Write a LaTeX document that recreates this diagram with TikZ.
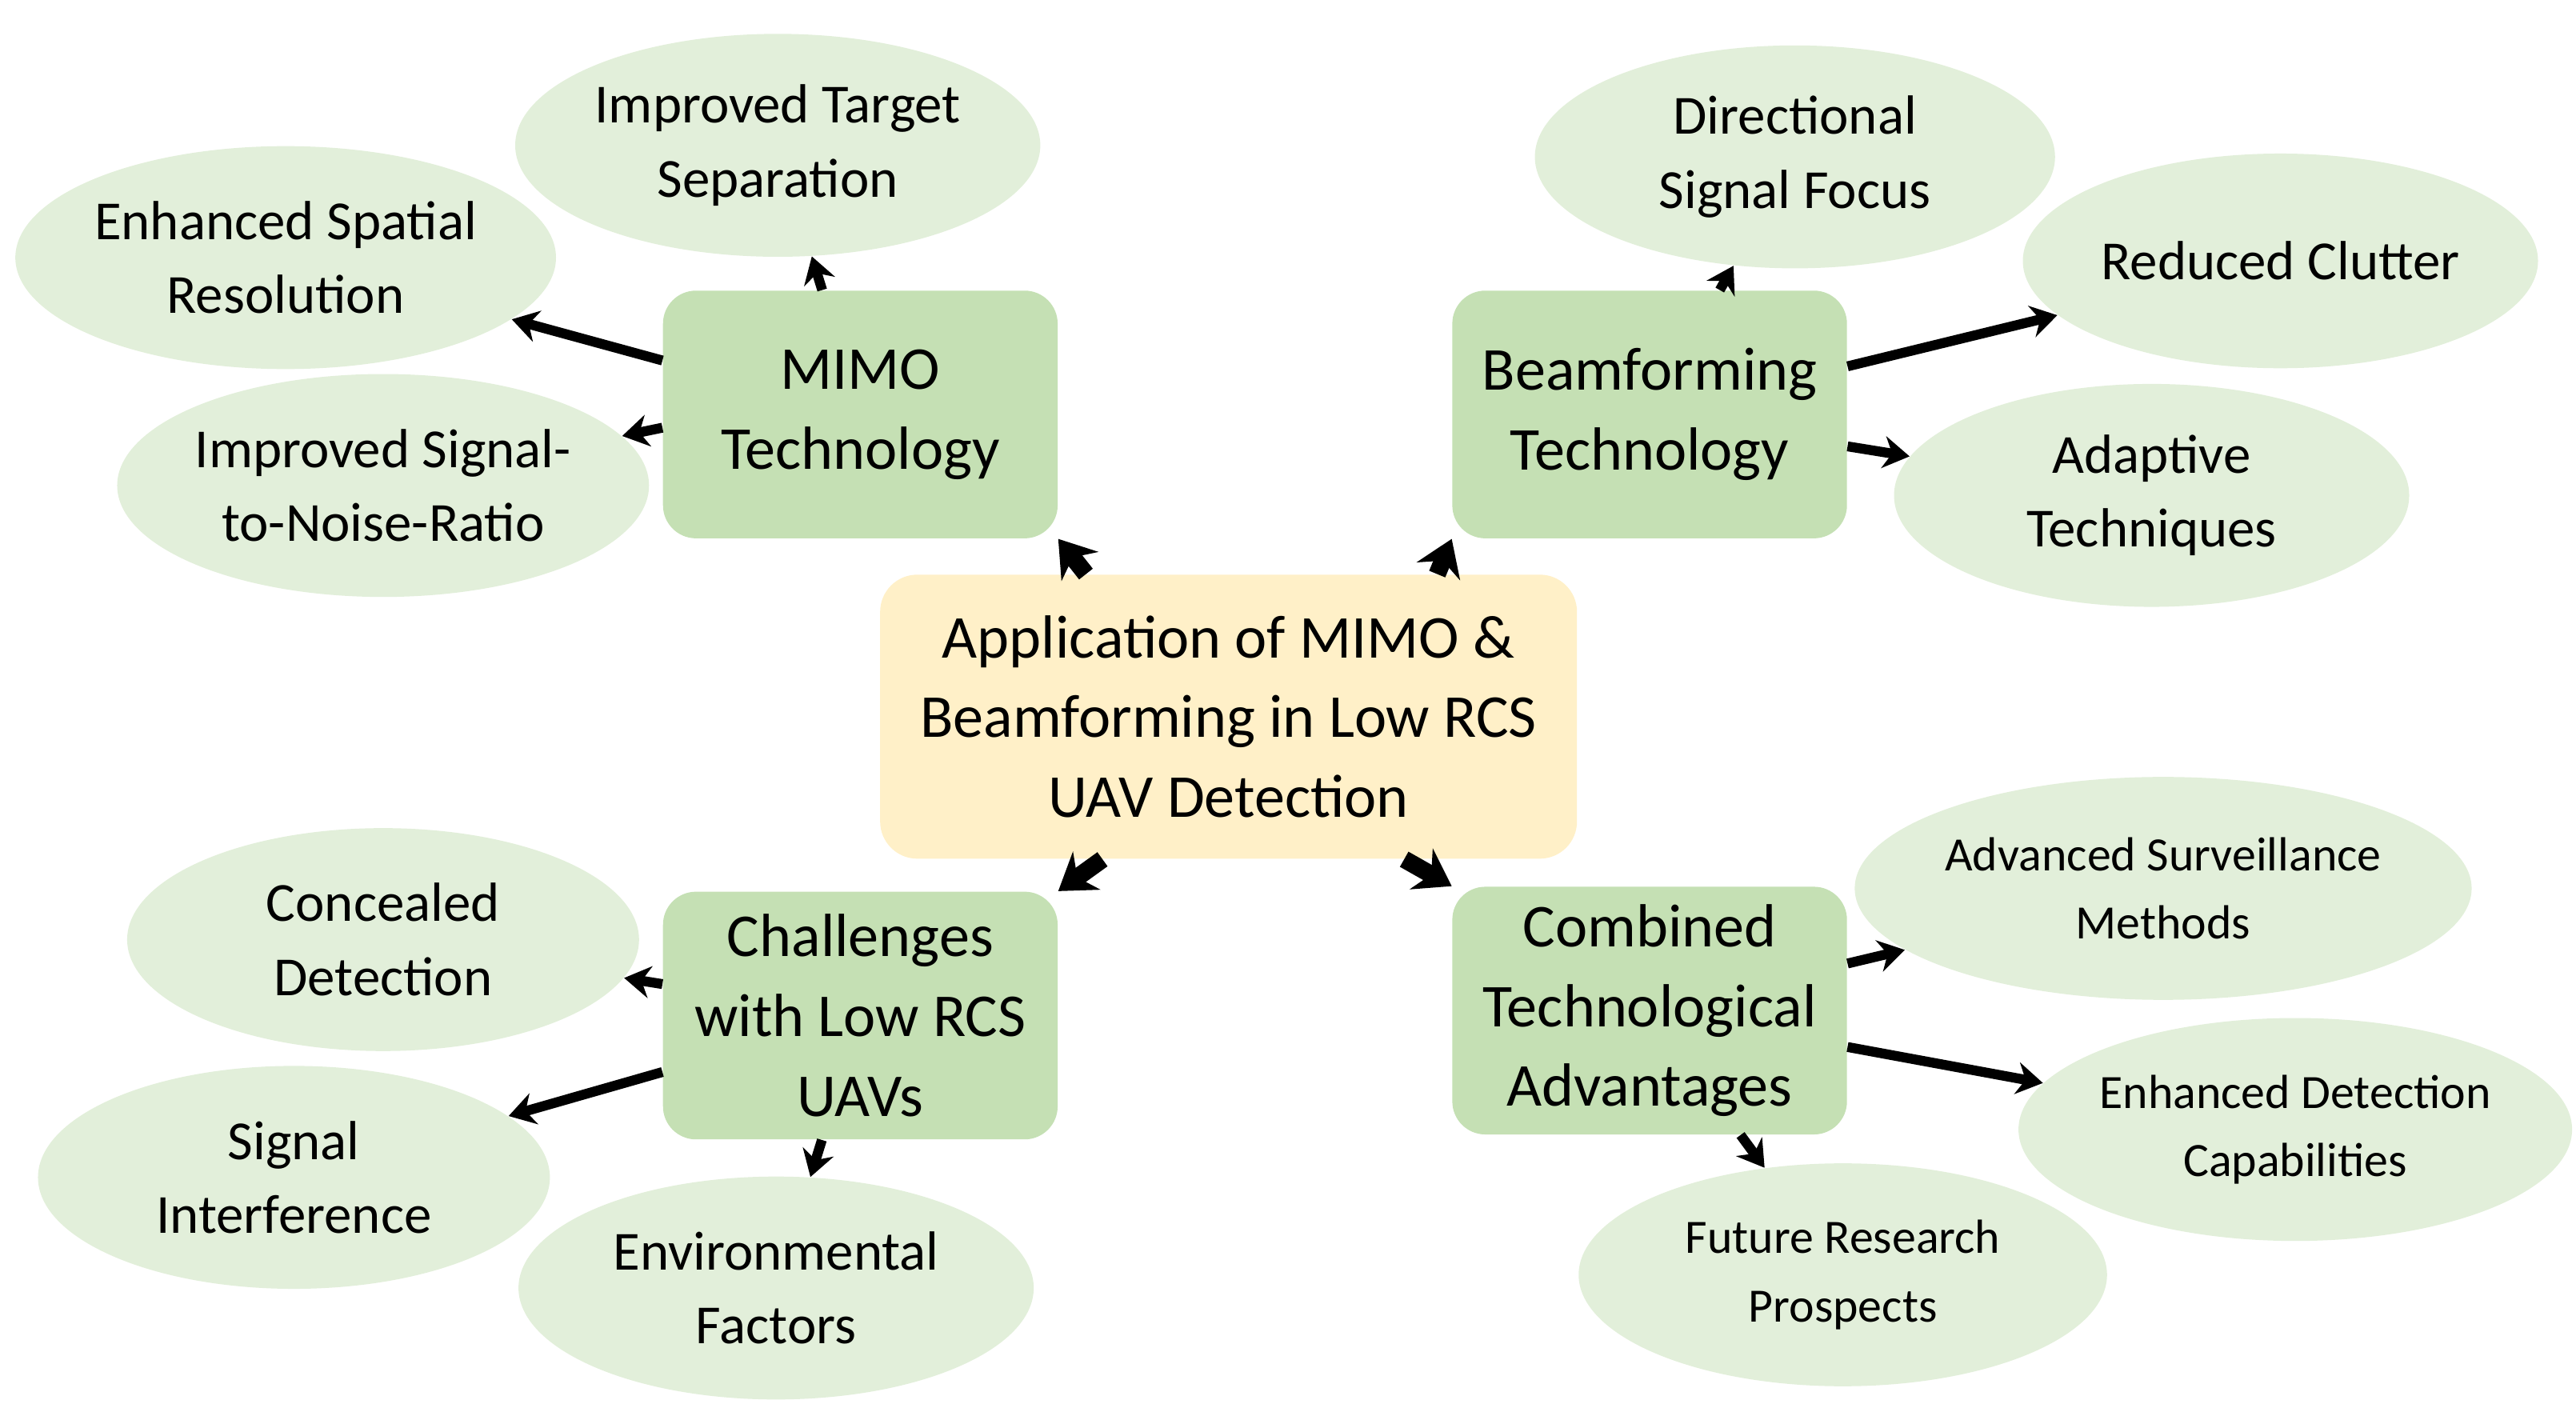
\documentclass[tikz,border=0pt]{standalone}
\usepackage{fontspec}
\setmainfont{Carlito}
\usetikzlibrary{shapes.geometric,arrows.meta}
\begin{document}
\begin{tikzpicture}[x=0.02cm,y=-0.02cm,
  ctrbox/.style={rectangle,rounded corners=0.45cm,fill=yellow!20!orange!25!white,fill={rgb,255:red,255;green,240;blue,200},minimum width=422*0.02cm,minimum height=172*0.02cm,align=center,font=\fontsize{21}{27.5}\selectfont},
  gbox/.style={rectangle,rounded corners=0.4cm,fill={rgb,255:red,197;green,224;blue,180},minimum width=239*0.02cm,minimum height=150*0.02cm,align=center,font=\fontsize{21}{27.5}\selectfont},
  ell/.style={ellipse,fill={rgb,255:red,226;green,239;blue,218},minimum width=318*0.02cm,minimum height=135*0.02cm,inner sep=0pt,align=center,font=\fontsize{19}{25.5}\selectfont},
  sell/.style={ell,font=\fontsize{16.5}{23.5}\selectfont},
  arr/.style={-{Stealth[length=9pt,width=11pt]},line width=3.4pt},
  barr/.style={-{Stealth[length=12pt,width=16pt]},line width=6pt}]
\useasboundingbox (0,0) rectangle (1560,862);
\node[ell] (its) at (471,88) {Improved Target\\Separation};
\node[ell] (esr) at (173,156) {Enhanced Spatial\\Resolution};
\node[ell,minimum width=312*0.02cm] (snr) at (232,294) {Improved Signal-\\to-Noise-Ratio};
\node[ell,minimum width=315*0.02cm] (dsf) at (1087,95) {Directional\\Signal Focus};
\node[ell,minimum width=312*0.02cm,minimum height=130*0.02cm] (rc) at (1381,158) {Reduced Clutter};
\node[ell,minimum width=312*0.02cm] (at) at (1303,300) {Adaptive\\Techniques};
\node[ell,minimum width=310*0.02cm] (cd) at (232,569) {Concealed\\Detection};
\node[ell,minimum width=310*0.02cm] (si) at (178,713) {Signal\\Interference};
\node[ell,minimum width=312*0.02cm] (ef) at (470,780) {Environmental\\Factors};
\node[sell,minimum width=325*0.02cm] (asm) at (1310,538) {Advanced Surveillance\\Methods};
\node[sell,minimum width=325*0.02cm] (edc) at (1390,684) {Enhanced Detection\\Capabilities};
\node[sell,minimum width=320*0.02cm] (frp) at (1116,772) {Future Research\\Prospects};
\node[ctrbox] (ctr) at (744,434) {Application of MIMO \&\\Beamforming in Low RCS\\UAV Detection};
\node[gbox] (mimo) at (521,251) {MIMO\\Technology};
\node[gbox] (beam) at (999,251) {Beamforming\\Technology};
\node[gbox] (chal) at (521,615) {Challenges\\with Low RCS\\UAVs};
\node[gbox] (comb) at (999,612) {Combined\\Technological\\Advantages};
\draw[barr] (ctr.north west) ++(125,0) -- (mimo.south east);
\draw[barr] (ctr.north east) ++(-85,0) -- (beam.south west);
\draw[barr] (ctr.south west) ++(135,0) -- (chal.north east);
\draw[barr] (ctr.south east) ++(-105,0) -- (comb.north west);
\draw[arr] (mimo) -- (its);
\draw[arr] (mimo) -- (esr);
\draw[arr] (mimo.west) ++(0,8) -- (snr);
\draw[arr] (beam) -- (dsf);
\draw[arr] (beam) -- (rc);
\draw[arr] (beam) -- (at);
\draw[arr] (chal) -- (cd);
\draw[arr] (chal) -- (si);
\draw[arr] (chal) -- (ef);
\draw[arr] (comb) -- (asm);
\draw[arr] (comb) -- (edc);
\draw[arr] (comb) -- (frp);
\end{tikzpicture}
\end{document}
